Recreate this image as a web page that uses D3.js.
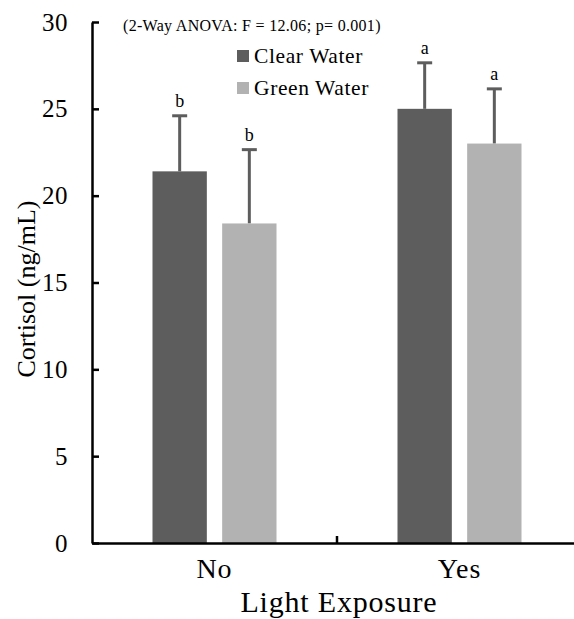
<!DOCTYPE html>
<html>
<head>
<meta charset="utf-8">
<script src="https://cdn.jsdelivr.net/npm/d3@7"></script>
<style>
  body { margin: 0; background: #fff; }
  svg text { font-family: "Liberation Serif", "Times New Roman", serif; fill: #000; }
</style>
</head>
<body>
<div id="chart"></div>
<script>
// data
var groups = ["No", "Yes"];
var series = ["Clear Water", "Green Water"];
var clearMean = [21.4, 25.0];
var clearErr = [3.2, 2.65];
var greenMean = [18.4, 23.0];
var greenErr = [4.25, 3.15];
var letters = [["b", "b"], ["a", "a"]];
var colors = ["#5d5d5d", "#b2b2b2"];
var yTicks = [0, 5, 10, 15, 20, 25, 30];

var W = 574, H = 619;
var margin = {top: 22, right: -8, bottom: 76, left: 92},
    width = W - margin.left - margin.right,
    height = H - margin.top - margin.bottom;

var svg = d3.select("#chart").append("svg")
    .attr("width", W)
    .attr("height", H)
  .append("g")
    .attr("transform", "translate(" + margin.left + "," + margin.top + ")");

var x = d3.scaleBand().domain(groups).range([0, width]);
var xs = d3.scaleBand().domain(series).range([0, 124]).paddingInner(0.22);
var y = d3.scaleLinear().domain([0, 30]).range([height, 0]);

// build rows for the bars
var rows = [];
groups.forEach(function(g, i) {
  rows.push({g: g, s: series[0], v: clearMean[i], e: clearErr[i], l: letters[i][0], c: colors[0]});
  rows.push({g: g, s: series[1], v: greenMean[i], e: greenErr[i], l: letters[i][1], c: colors[1]});
});
function bx(d) { return x(d.g) + x.bandwidth() / 2 - 62 + xs(d.s); }

// error bars (drawn first, bars cover the lower half)
var eb = svg.append("g");
eb.selectAll("line.stem").data(rows).enter().append("line")
    .attr("x1", function(d) { return bx(d) + xs.bandwidth() / 2; })
    .attr("x2", function(d) { return bx(d) + xs.bandwidth() / 2; })
    .attr("y1", function(d) { return y(d.v); })
    .attr("y2", function(d) { return y(d.v + d.e); })
    .attr("stroke", "#5d5d5d").attr("stroke-width", 3);
eb.selectAll("line.cap").data(rows).enter().append("line")
    .attr("x1", function(d) { return bx(d) + xs.bandwidth() / 2 - 7.5; })
    .attr("x2", function(d) { return bx(d) + xs.bandwidth() / 2 + 7.5; })
    .attr("y1", function(d) { return y(d.v + d.e); })
    .attr("y2", function(d) { return y(d.v + d.e); })
    .attr("stroke", "#5d5d5d").attr("stroke-width", 3);

svg.selectAll("rect.bar").data(rows).enter().append("rect")
    .attr("x", bx)
    .attr("y", function(d) { return y(d.v); })
    .attr("width", xs.bandwidth())
    .attr("height", function(d) { return height - y(d.v); })
    .attr("fill", function(d) { return d.c; });

// significance letters
svg.selectAll("text.let").data(rows).enter().append("text")
    .attr("x", function(d) { return bx(d) + xs.bandwidth() / 2; })
    .attr("y", function(d) { return y(d.v + d.e) - 9; })
    .attr("text-anchor", "middle")
    .style("font-size", "18px")
    .text(function(d) { return d.l; });

// y axis
var yAxis = svg.append("g")
    .call(d3.axisLeft(y).tickValues(yTicks).tickSizeInner(-7).tickSizeOuter(0).tickPadding(24));
yAxis.select(".domain").attr("stroke-width", 2.5);
yAxis.selectAll(".tick line").attr("stroke-width", 2.5);
yAxis.selectAll(".tick text").style("font-size", "25px").style("letter-spacing", "0.5px");

// x axis
var xAxis = svg.append("g")
    .attr("transform", "translate(0," + height + ")")
    .call(d3.axisBottom(x).tickSize(0));
xAxis.select(".domain").attr("stroke-width", 2.5);
xAxis.selectAll(".tick text")
    .attr("y", 35).attr("dy", 0)
    .style("font-size", "28px").style("letter-spacing", "1px");
// divider tick between the groups
svg.append("line")
    .attr("x1", x("Yes")).attr("x2", x("Yes"))
    .attr("y1", height).attr("y2", height - 7)
    .attr("stroke", "#000").attr("stroke-width", 2.5);

// axis titles
svg.append("text")
    .attr("transform", "rotate(-90)")
    .attr("x", -267)
    .attr("y", -57)
    .attr("text-anchor", "middle")
    .style("font-size", "26px")
    .text("Cortisol (ng/mL)");
svg.append("text")
    .attr("x", 247)
    .attr("y", height + 69)
    .attr("text-anchor", "middle")
    .style("font-size", "30px")
    .style("letter-spacing", "0.8px")
    .text("Light Exposure");

// annotation
svg.append("text")
    .attr("x", 31)
    .attr("y", 9)
    .style("font-size", "16px")
    .style("letter-spacing", "0.3px")
    .text("(2-Way ANOVA: F = 12.06; p= 0.001)");

// legend
var lg = svg.selectAll("g.leg").data(series).enter().append("g")
    .attr("transform", function(d, i) { return "translate(145," + (28 + i * 32) + ")"; });
lg.append("rect").attr("width", 12).attr("height", 12)
    .attr("fill", function(d, i) { return colors[i]; });
lg.append("text").attr("x", 17).attr("y", 13)
    .style("font-size", "21.5px")
    .style("letter-spacing", "0.6px")
    .text(function(d) { return d; });
</script>
</body>
</html>
